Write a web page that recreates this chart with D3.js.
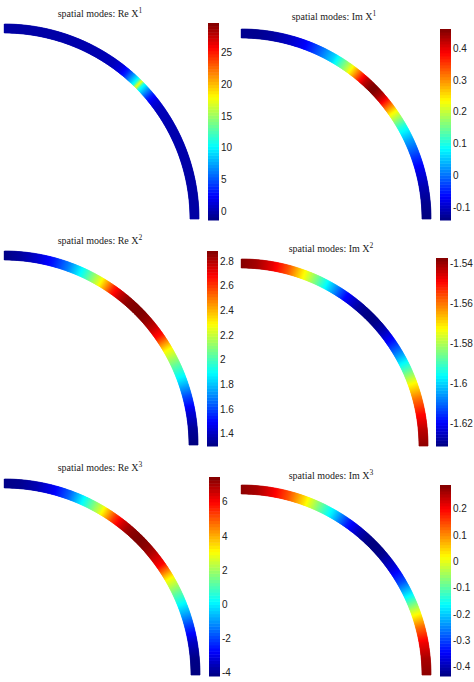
<!DOCTYPE html>
<html lang="en">
<head>
  <meta charset="UTF-8">
  <title>spatial modes</title>
  <script src="https://d3js.org/d3.v7.min.js"></script>
  <style>
    body { margin: 0; background: #fff; }
    svg { font-family: "Liberation Serif", "DejaVu Serif", serif; }
    .cbar text { fill: #222; font-size: 10px; }
  </style>
</head>
<body>
  <svg width="474" height="682"></svg>

  <script>
    // angle along the ring, degrees from the top end (0) to the right end (90)
    const angles = [0, 5, 10, 15, 20, 25, 30, 35, 38, 40, 42, 44, 45, 46, 48, 50, 52, 55, 60, 65, 70, 75, 80, 85, 90];

    const reX1 = [-0.3, -0.3, -0.2, -0.2, -0.1, 0, 0.1, 0.4, 1.5, 3.5, 7, 11, 18, 11, 7, 3.5, 1.5, 0.4, 0.1, 0, -0.1, -0.2, -0.2, -0.3, -0.3];
    const imX1 = [-0.13, -0.13, -0.12, -0.10, -0.07, -0.01, 0.06, 0.19, 0.29, 0.36, 0.42, 0.45, 0.46, 0.46, 0.44, 0.40, 0.34, 0.24, 0.11, 0.03, -0.03, -0.08, -0.11, -0.13, -0.14];
    const reX2 = [1.31, 1.35, 1.42, 1.53, 1.70, 1.94, 2.23, 2.63, 2.78, 2.84, 2.87, 2.88, 2.88, 2.88, 2.86, 2.82, 2.77, 2.66, 2.28, 2.05, 1.85, 1.62, 1.44, 1.34, 1.30];
    const imX2 = [-1.538, -1.541, -1.547, -1.557, -1.572, -1.587, -1.603, -1.619, -1.625, -1.628, -1.630, -1.631, -1.631, -1.631, -1.630, -1.628, -1.625, -1.619, -1.606, -1.590, -1.573, -1.560, -1.550, -1.543, -1.539];
    const reX3 = [-4.1, -4.0, -3.6, -2.9, -1.6, 0.4, 2.5, 5.3, 6.5, 7.0, 7.3, 7.45, 7.45, 7.4, 7.3, 7.0, 6.6, 6.0, 3.0, 1.2, -0.4, -2.0, -3.4, -4.1, -4.2];
    const imX3 = [0.28, 0.26, 0.21, 0.14, 0.04, -0.08, -0.19, -0.32, -0.37, -0.40, -0.42, -0.43, -0.435, -0.435, -0.43, -0.42, -0.40, -0.37, -0.29, -0.16, -0.01, 0.12, 0.21, 0.26, 0.28];

    // colour limits and colorbar ticks
    const rangeReX1 = [-1.4, 29.7], ticksReX1 = [0, 5, 10, 15, 20, 25];
    const rangeImX1 = [-0.14, 0.46], ticksImX1 = [-0.1, 0, 0.1, 0.2, 0.3, 0.4];
    const rangeReX2 = [1.30, 2.88], ticksReX2 = [1.4, 1.6, 1.8, 2, 2.2, 2.4, 2.6, 2.8];
    const rangeImX2 = [-1.6315, -1.5375], ticksImX2 = [-1.62, -1.6, -1.58, -1.56, -1.54];
    const rangeReX3 = [-4.2, 7.45], ticksReX3 = [-4, -2, 0, 2, 4, 6];
    const rangeImX3 = [-0.435, 0.29], ticksImX3 = [-0.4, -0.3, -0.2, -0.1, 0, 0.1, 0.2];

    const panels = [
      { part: "Re", k: 1, vals: reX1, range: rangeReX1, ticks: ticksReX1,
        cx: 4, cy: 219, ro: 195, ri: 186, bar: [208, 23, 11, 197], tx: 100, ty: 17 },
      { part: "Im", k: 1, vals: imX1, range: rangeImX1, ticks: ticksImX1,
        cx: 241, cy: 219, ro: 190, ri: 181, bar: [440, 29, 11, 191], tx: 334, ty: 20 },
      { part: "Re", k: 2, vals: reX2, range: rangeReX2, ticks: ticksReX2,
        cx: 4, cy: 445, ro: 194, ri: 185, bar: [207, 251, 11, 195], tx: 100, ty: 244 },
      { part: "Im", k: 2, vals: imX2, range: rangeImX2, ticks: ticksImX2,
        cx: 241, cy: 446, ro: 187, ri: 178, bar: [436, 258, 12, 188], tx: 331, ty: 252 },
      { part: "Re", k: 3, vals: reX3, range: rangeReX3, ticks: ticksReX3,
        cx: 4, cy: 675, ro: 196, ri: 187, bar: [209, 477, 11, 199], tx: 100, ty: 471 },
      { part: "Im", k: 3, vals: imX3, range: rangeImX3, ticks: ticksImX3,
        cx: 241, cy: 675, ro: 190, ri: 181, bar: [440, 485, 11, 191], tx: 331, ty: 479 }
    ];

    // matlab jet
    const clamp = v => Math.max(0, Math.min(1, v));
    const jet = t => d3.rgb(
      255 * clamp(1.5 - Math.abs(4 * t - 3)),
      255 * clamp(1.5 - Math.abs(4 * t - 2)),
      255 * clamp(1.5 - Math.abs(4 * t - 1))
    ).toString();

    const svg = d3.select("svg");
    const step = 0.25; // degrees per drawn slice

    panels.forEach(p => {
      const g = svg.append("g");
      const valueAt = d3.scaleLinear().domain(angles).range(p.vals);
      const color = d3.scaleSequential(jet).domain(p.range).clamp(true);

      const slices = d3.range(0, 90, step);
      const arc = d3.arc().innerRadius(p.ri).outerRadius(p.ro);

      g.append("g")
        .attr("transform", `translate(${p.cx},${p.cy})`)
        .selectAll("path")
        .data(slices)
        .join("path")
        .attr("d", a => arc({
          startAngle: a * Math.PI / 180,
          endAngle: Math.min(90, a + step * 2) * Math.PI / 180
        }))
        .attr("fill", a => color(valueAt(a + step / 2)))
        .attr("stroke", a => color(valueAt(a + step / 2)))
        .attr("stroke-width", 0.4);

      // colorbar (64 levels like matlab)
      const [bx, by, bw, bh] = p.bar;
      const y = d3.scaleLinear().domain(p.range).range([by + bh, by]);
      const levels = d3.range(64);
      const lv = d3.scaleLinear().domain([0, 64]).range(p.range);
      g.append("g")
        .selectAll("rect")
        .data(levels)
        .join("rect")
        .attr("x", bx)
        .attr("width", bw)
        .attr("y", i => y(lv(i + 1)))
        .attr("height", i => y(lv(i)) - y(lv(i + 1)) + 0.5)
        .attr("fill", i => jet((i + 0.5) / 64));

      const ax = g.append("g")
        .attr("class", "cbar")
        .attr("transform", `translate(${bx + bw},0)`)
        .call(d3.axisRight(y).tickValues(p.ticks).tickSize(0).tickPadding(2)
          .tickFormat(d => String(d)));
      ax.select(".domain").remove();
      ax.selectAll("text").attr("font-family", null).attr("font-size", null);

      const t = g.append("text")
        .attr("x", p.tx)
        .attr("y", p.ty)
        .attr("text-anchor", "middle")
        .attr("fill", "#222")
        .style("font-size", "10px");
      t.append("tspan").text(`spatial modes: ${p.part} X`);
      t.append("tspan").attr("dy", -4).style("font-size", "7.5px").text(p.k);
    });
  </script>
</body>
</html>
